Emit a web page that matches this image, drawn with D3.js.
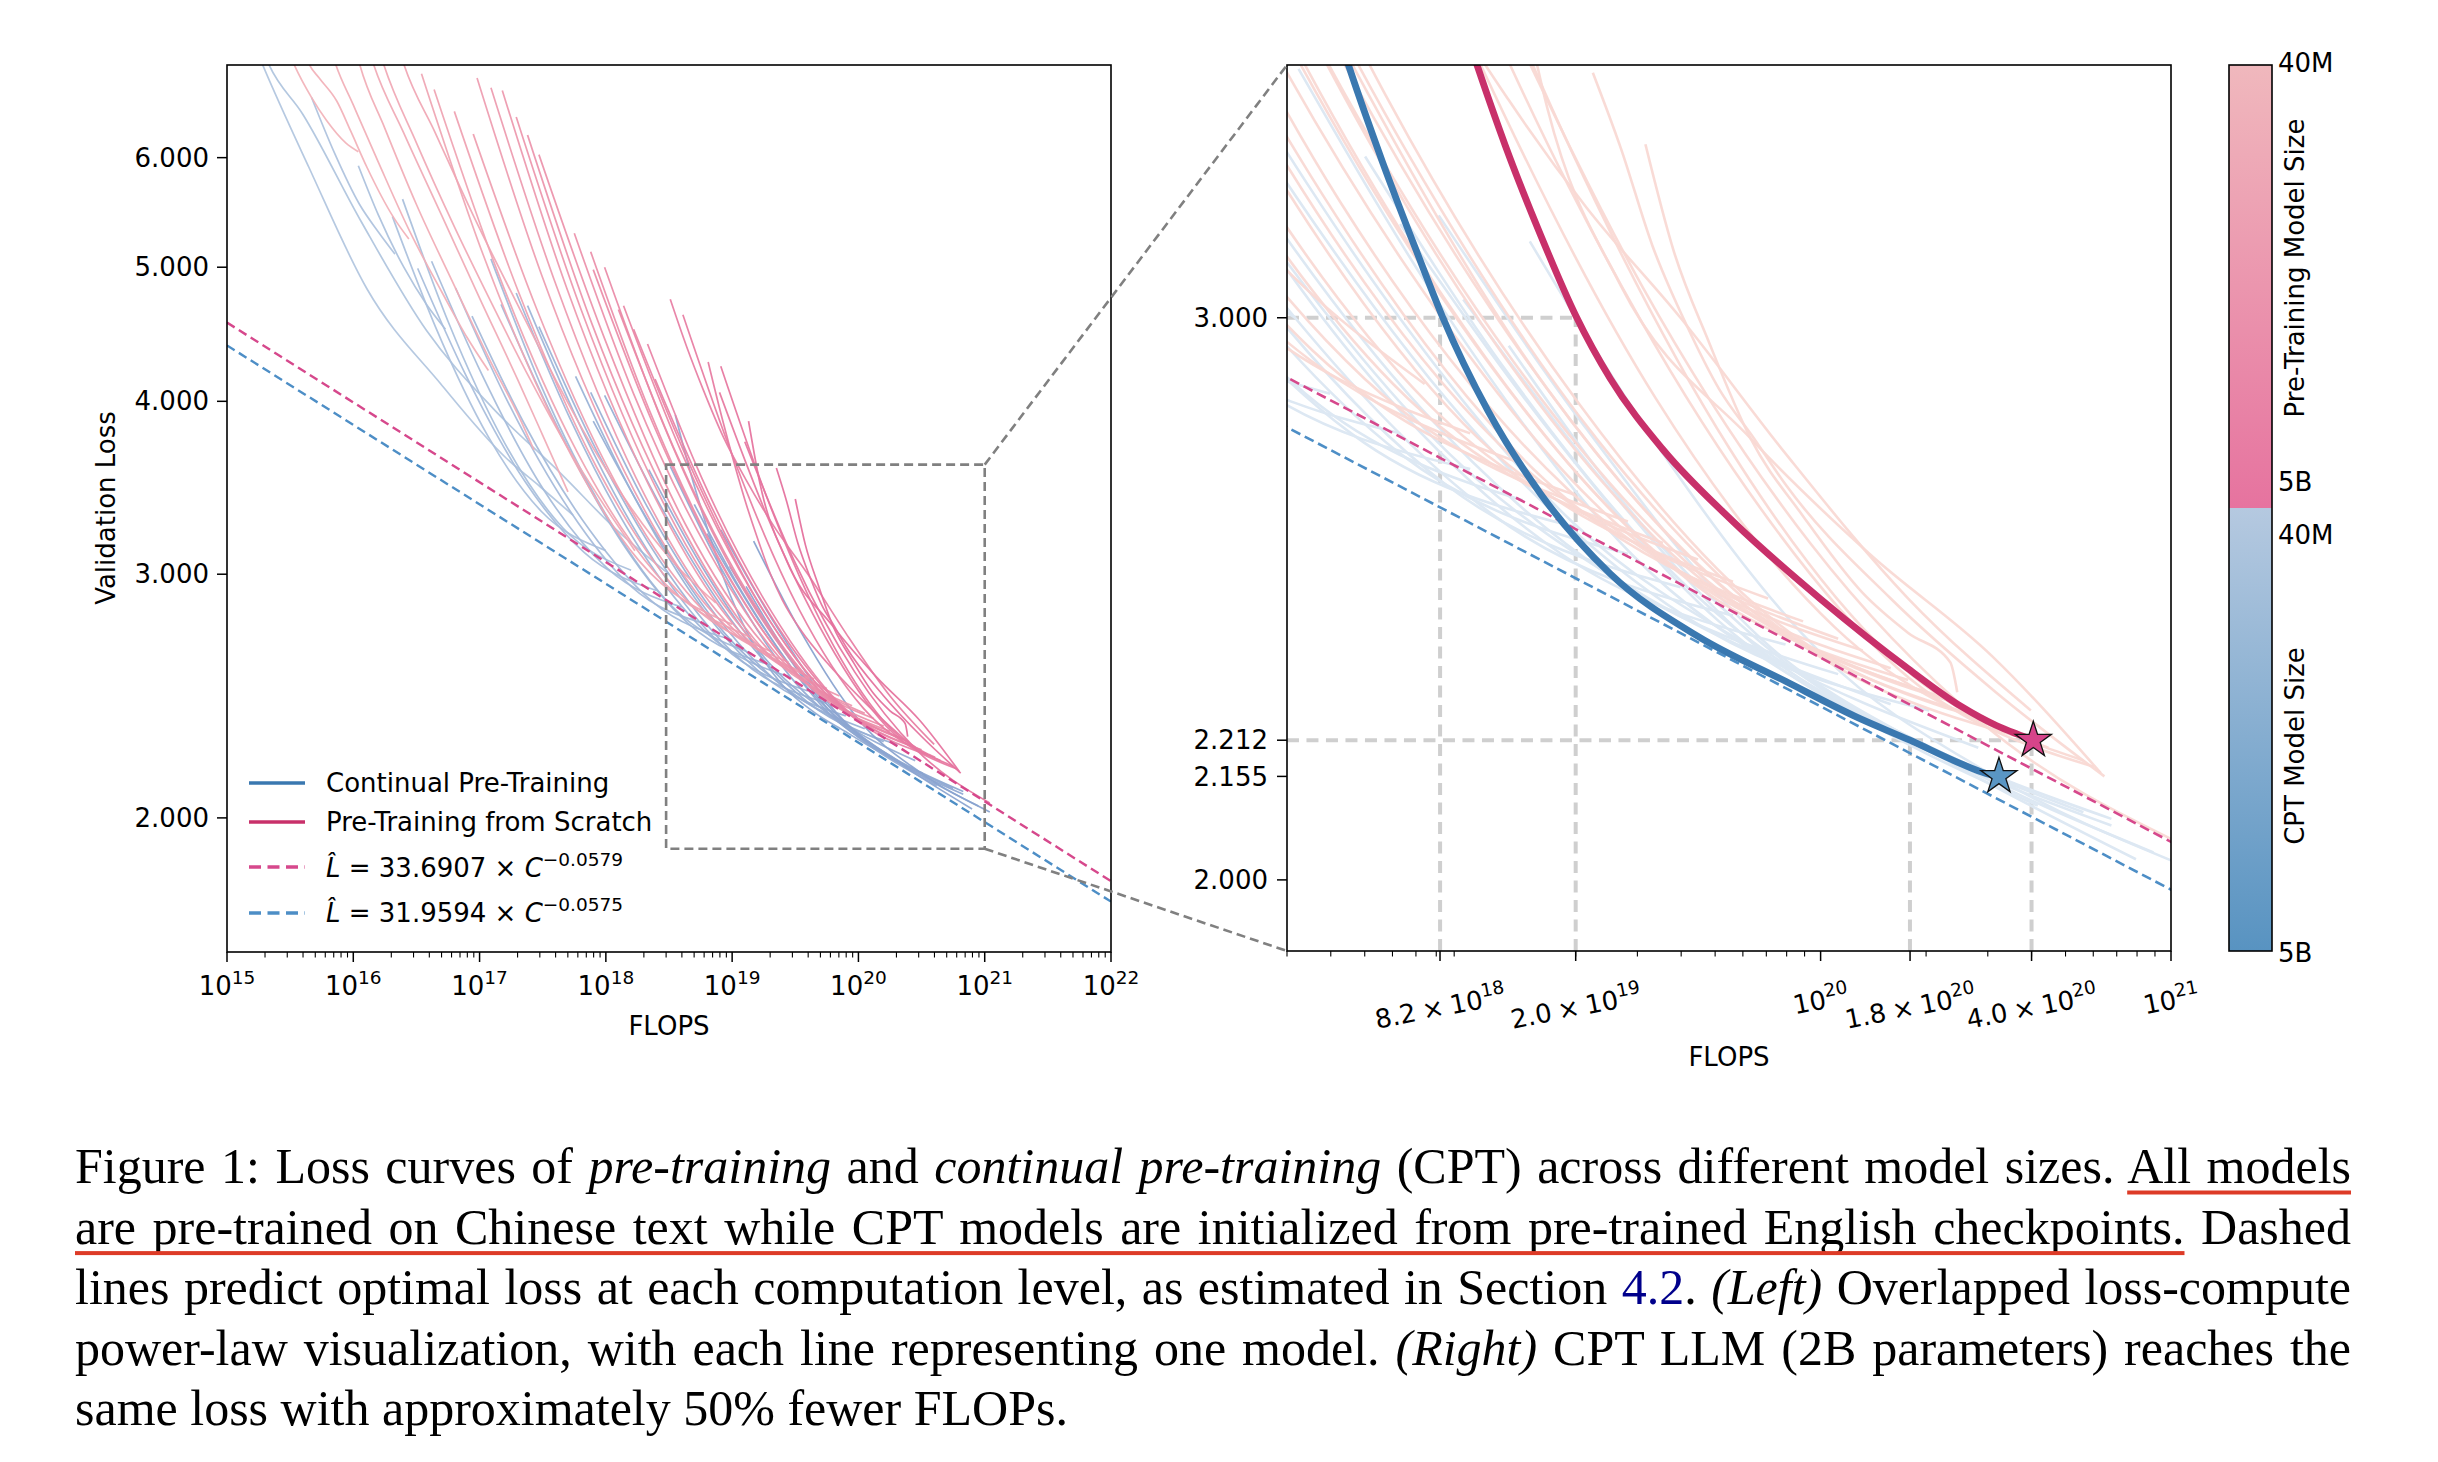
<!DOCTYPE html>
<html><head><meta charset="utf-8">
<script src="https://cdn.jsdelivr.net/npm/d3@7"></script>
<style>body{margin:0;background:#fff}</style>
</head><body>
<svg id="fig" width="2438" height="1462" xmlns="http://www.w3.org/2000/svg"></svg>
<script>
// ---------------- DATA (x = log10 FLOPs, y = validation loss) ----------------
const pinkCurves = [
[[15.45,7.3],[15.53,7.01],[15.67,6.63],[15.79,6.38],[15.94,6.15],[16.04,6.06]],
[[15.60,7.2],[15.65,7.01],[15.73,6.85],[15.87,6.59],[15.98,6.27],[16.11,5.90],[16.32,5.43],[16.44,5.24]],
[[15.80,7.3],[15.86,7.01],[16.0,6.55],[16.2,5.95],[16.45,5.3],[16.7,4.8],[16.9,4.45],[17.07,4.21]],
[[16.0,7.3],[16.05,7.01],[16.25,6.30],[16.5,5.55],[16.8,4.85],[17.1,4.25],[17.3,3.92],[17.43,3.69]],
[[16.10,7.3],[16.16,7.01],[16.4,6.25],[16.7,5.45],[17.0,4.75],[17.3,4.15],[17.5,3.78],[17.70,3.44]],
[[16.18,7.3],[16.24,7.01],[16.5,6.15],[16.8,5.35],[17.1,4.7],[17.4,4.15],[17.7,3.7],[18.0,3.35],[18.23,3.12]],
[[16.34,7.3],[16.40,7.01],[16.65,6.25],[16.95,5.45],[17.3,4.7],[17.6,4.15],[17.9,3.7],[18.2,3.35],[18.55,3.05],[18.87,2.86]],
[[16.54,6.90],[17.03,5.10],[17.65,3.77],[18.26,3.07],[19.00,2.76]],
[[16.64,6.72],[17.14,4.97],[17.77,3.68],[18.40,3.00],[19.15,2.70]],
[[16.80,6.48],[17.30,4.82],[17.93,3.58],[18.55,2.93],[19.30,2.64]],
[[16.95,6.24],[17.45,4.67],[18.08,3.49],[18.70,2.87],[19.45,2.59]],
[[16.98,6.85],[17.49,4.94],[18.14,3.57],[18.78,2.86],[19.55,2.55]],
[[17.09,6.74],[17.60,4.87],[18.24,3.52],[18.88,2.82],[19.65,2.52]],
[[17.18,6.71],[17.69,4.83],[18.34,3.48],[18.98,2.78],[19.75,2.48]],
[[17.29,6.42],[17.80,4.67],[18.44,3.40],[19.08,2.74],[19.85,2.45]],
[[17.38,6.23],[17.89,4.55],[18.54,3.33],[19.18,2.69],[19.95,2.41]],
[[17.47,6.03],[17.99,4.44],[18.63,3.26],[19.28,2.65],[20.05,2.38]],
[[17.75,5.29],[18.22,4.05],[18.82,3.11],[19.41,2.59],[20.12,2.36]],
[[17.88,5.13],[18.34,3.95],[18.92,3.05],[19.50,2.55],[20.20,2.33]],
[[17.90,4.98],[18.37,3.86],[18.96,3.00],[19.55,2.52],[20.25,2.31]],
[[17.99,5.00],[18.45,3.86],[19.03,2.99],[19.61,2.51],[20.30,2.29]],
[[18.10,4.66],[18.55,3.68],[19.12,2.91],[19.68,2.48],[20.36,2.28]],
[[18.14,4.69],[18.59,3.69],[19.16,2.91],[19.72,2.47],[20.40,2.27]],
[[18.22,4.51],[18.67,3.59],[19.22,2.85],[19.78,2.44],[20.45,2.25]],
[[18.33,4.40],[18.76,3.52],[19.31,2.82],[19.85,2.42],[20.50,2.24]],
[[18.39,4.15],[18.82,3.38],[19.36,2.75],[19.90,2.39],[20.55,2.22]],
[[18.51,4.74],[18.64,4.38],[18.77,4.08],[18.93,3.77],[19.11,3.51],[19.33,3.25],[19.6,3.0],[19.9,2.72],[20.25,2.45],[20.60,2.26]],
[[18.61,4.62],[19.02,3.62],[19.53,2.83],[20.04,2.40],[20.65,2.20]],
[[18.91,4.24],[19.28,3.40],[19.74,2.73],[20.20,2.35],[20.75,2.18]],
[[18.90,4.06],[19.28,3.30],[19.75,2.69],[20.22,2.33],[20.78,2.17]],
[[19.10,3.74],[19.49,3.07],[19.97,2.55],[20.46,2.24],[21.04,2.05]],
[[19.13,3.87],[19.22,3.49],[19.43,3.07],[19.80,2.75],[20.14,2.53],[20.49,2.35],[20.80,2.16]],
[[19.35,3.58],[19.43,3.39],[19.52,3.16],[19.62,2.98],[19.71,2.85],[19.81,2.75],[19.90,2.66],[20.2,2.45],[20.5,2.29],[20.81,2.155]],
[[19.50,3.40],[19.58,3.15],[19.68,2.95],[19.80,2.75],[19.95,2.60],[20.12,2.46],[20.25,2.39],[20.37,2.34],[20.39,2.29]]
];

const blueCurves = [
[[15.20,7.3],[15.28,7.01],[15.65,5.90],[16.11,4.82],[16.69,4.12],[17.21,3.64],[17.48,3.47],[17.74,3.31]],
[[15.25,7.3],[15.33,7.01],[15.60,6.45],[16.06,5.40],[16.58,4.50],[17.11,3.95],[17.64,3.55],[18.1,3.22],[18.5,3.0]],
[[15.67,6.63],[15.85,6.05],[16.05,5.55],[16.20,5.30],[16.33,5.11]],
[[16.04,5.92],[16.2,5.45],[16.4,5.0],[16.58,4.70],[16.73,4.51]],
[[16.31,5.44],[16.65,4.53],[17.07,3.77],[17.49,3.33],[18.0,3.12]],
[[16.39,5.60],[16.75,4.57],[17.20,3.73],[17.66,3.24],[18.2,3.02]],
[[16.51,4.99],[16.89,4.18],[17.36,3.50],[17.83,3.11],[18.4,2.92]],
[[16.62,5.05],[17.02,4.18],[17.51,3.45],[18.01,3.03],[18.6,2.84]],
[[16.81,4.83],[17.21,4.02],[17.71,3.34],[18.20,2.94],[18.8,2.76]],
[[16.94,4.61],[17.35,3.86],[17.87,3.23],[18.38,2.86],[19.0,2.69]],
[[17.09,5.07],[17.50,4.08],[18.02,3.29],[18.53,2.84],[19.15,2.63]],
[[17.17,4.70],[17.60,3.86],[18.13,3.16],[18.66,2.76],[19.3,2.58]],
[[17.29,4.79],[17.72,3.88],[18.26,3.14],[18.80,2.72],[19.45,2.53]],
[[17.38,4.69],[17.82,3.80],[18.38,3.07],[18.93,2.66],[19.6,2.47]],
[[17.47,4.53],[17.93,3.68],[18.50,3.00],[19.07,2.60],[19.75,2.42]],
[[17.76,4.17],[18.19,3.46],[18.72,2.87],[19.26,2.53],[19.9,2.37]],
[[17.88,4.06],[18.31,3.38],[18.86,2.81],[19.40,2.49],[20.05,2.32]],
[[17.90,3.87],[18.36,3.25],[18.94,2.72],[19.51,2.45],[20.2,2.27]],
[[17.99,4.04],[18.45,3.34],[19.03,2.75],[19.61,2.42],[20.31,2.26]],
[[18.34,3.57],[18.76,3.04],[19.29,2.59],[19.82,2.36],[20.45,2.20]],
[[18.51,3.59],[18.93,3.01],[19.46,2.53],[19.99,2.29],[20.62,2.11]],
[[18.70,3.37],[19.11,2.88],[19.62,2.47],[20.14,2.25],[20.75,2.10]],
[[18.80,3.21],[19.21,2.78],[19.71,2.41],[20.22,2.22],[20.83,2.08]],
[[18.91,3.23],[19.32,2.78],[19.83,2.38],[20.34,2.19],[20.95,2.04]],
[[18.98,3.04],[19.35,2.69],[19.81,2.37],[20.28,2.21],[20.83,2.09]],
[[19.11,2.94],[19.47,2.60],[19.92,2.33],[20.36,2.18],[20.9,2.03]],
[[19.17,3.17],[19.54,2.73],[20.01,2.35],[20.48,2.16],[21.04,2.02]]
];

// highlighted 2B models (right panel)
const pinkHighlight = [[18.81,4.27],[18.92,3.89],[19.022,3.593],[19.1,3.397],[19.2,3.186],[19.301,3.005],[19.4,2.871],[19.55,2.728],[19.75,2.590],[20.0,2.449],[20.25,2.329],[20.4,2.267],[20.5,2.236],[20.56,2.222],[20.607,2.212]];
const blueHighlight = [[18.55,3.91],[18.655,3.593],[18.75,3.356],[18.85,3.141],[18.922,3.0],[19.05,2.806],[19.2,2.643],[19.4,2.494],[19.65,2.384],[19.9,2.308],[20.1,2.25],[20.255,2.212],[20.4,2.175],[20.47,2.16],[20.509,2.155]];
const starPoints = [{name:"pink", x:20.607, y:2.212}, {name:"blue", x:20.509, y:2.155}];

// fitted power laws (endpoints at 1e15 and 1e22)
const fitPink = [[15, 4.56],[22, 1.80]];
const fitBlue = [[15, 4.39],[22, 1.74]];

// guide lines in right panel
const guideH = [{y:3.0, x0:18.477, x1:19.301},{y:2.212, x0:18.477, x1:20.602}];
const guideV = [{x:18.914, y:3.0},{x:19.301, y:3.0},{x:20.255, y:2.212},{x:20.602, y:2.212}];

// ticks
const leftXExps = [15,16,17,18,19,20,21,22];
const leftYTicks = [2,3,4,5,6];
const rightXTicks = [{v:8.2e18, m:"8.2", e:"18"},{v:2.0e19, m:"2.0", e:"19"},{v:1e20, m:"", e:"20"},{v:1.8e20, m:"1.8", e:"20"},{v:4.0e20, m:"4.0", e:"20"},{v:1e21, m:"", e:"21"}];
const rightYTicks = [2.0, 2.155, 2.212, 3.0];
const cbarLabels = [{t:"40M", y:63},{t:"5B", y:482},{t:"40M", y:535},{t:"5B", y:953}];

const legendItems = [
  {type:"solid", color:"#3a78b0", text:"Continual Pre-Training"},
  {type:"solid", color:"#c8306a", text:"Pre-Training from Scratch"},
  {type:"dash", color:"#d6488c", coef:"33.6907", exp:"\u22120.0579"},
  {type:"dash", color:"#4d8ec6", coef:"31.9594", exp:"\u22120.0575"}
];

// ---------------- LAYOUT ----------------
const svg = d3.select("#fig");
const FONT = "'DejaVu Sans', sans-serif";
const LB = {x0:227, x1:1111, y0:65, y1:952};
const RB = {x0:1287, x1:2171, y0:65, y1:951};
const xL = d3.scaleLog().domain([1e15,1e22]).range([LB.x0, LB.x1]);
const yL = d3.scaleLog().domain([1.6,7.0]).range([LB.y1, LB.y0]);
const xR = d3.scaleLog().domain([3e18,1e21]).range([RB.x0, RB.x1]);
const yR = d3.scaleLog().domain([1.9,3.6]).range([RB.y1, RB.y0]);

const defs = svg.append("defs");
function addClip(id, b){
  defs.append("clipPath").attr("id", id).append("rect")
    .attr("x", b.x0).attr("y", b.y0).attr("width", b.x1-b.x0).attr("height", b.y1-b.y0);
}
addClip("clipL", LB); addClip("clipR", RB);

const lineGen = (xs, ys) => d3.line().x(d => xs(Math.pow(10, d[0]))).y(d => ys(d[1])).curve(d3.curveMonotoneX);

const pinkScale = d3.interpolateRgb("#f2b4ba", "#e5709d");
const blueScale = d3.interpolateRgb("#b2c6df", "#89a3d0");

// ---------------- LEFT PANEL ----------------
const gL = svg.append("g").attr("clip-path", "url(#clipL)");
const blueAll = blueCurves.concat([blueHighlight]).sort((a,b)=>a[0][0]-b[0][0]);
const pinkAll = pinkCurves.concat([pinkHighlight]).sort((a,b)=>a[0][0]-b[0][0]);
gL.selectAll("path.b").data(blueAll).join("path")
  .attr("d", lineGen(xL, yL)).attr("fill","none")
  .attr("stroke", (d,i)=>blueScale(i/(blueAll.length-1))).attr("stroke-width",1.7).attr("stroke-opacity",0.95);
gL.selectAll("path.p").data(pinkAll).join("path")
  .attr("d", lineGen(xL, yL)).attr("fill","none")
  .attr("stroke", (d,i)=>pinkScale(i/(pinkAll.length-1))).attr("stroke-width",1.7).attr("stroke-opacity",0.95);
gL.append("path").datum(fitPink).attr("d", d3.line().x(d=>xL(Math.pow(10,d[0]))).y(d=>yL(d[1])))
  .attr("fill","none").attr("stroke","#d6488c").attr("stroke-width",2.4).attr("stroke-dasharray","9,5");
gL.append("path").datum(fitBlue).attr("d", d3.line().x(d=>xL(Math.pow(10,d[0]))).y(d=>yL(d[1])))
  .attr("fill","none").attr("stroke","#4d8ec6").attr("stroke-width",2.4).attr("stroke-dasharray","9,5");

// frame
function frame(b){
  svg.append("rect").attr("x",b.x0).attr("y",b.y0).attr("width",b.x1-b.x0).attr("height",b.y1-b.y0)
    .attr("fill","none").attr("stroke","#000").attr("stroke-width",1.6);
}
frame(LB);

// left x ticks
const tickG = svg.append("g").attr("stroke","#000");
leftXExps.forEach(e => {
  const x = xL(Math.pow(10,e));
  tickG.append("line").attr("x1",x).attr("x2",x).attr("y1",LB.y1).attr("y2",LB.y1+10).attr("stroke-width",1.5);
  if (e < 22) for (let k=2;k<=9;k++){
    const xm = xL(k*Math.pow(10,e));
    tickG.append("line").attr("x1",xm).attr("x2",xm).attr("y1",LB.y1).attr("y2",LB.y1+5.5).attr("stroke-width",1.1);
  }
  const t = svg.append("text").attr("x",x).attr("y",995).attr("text-anchor","middle")
    .attr("font-family",FONT).attr("font-size",26).attr("fill","#000");
  t.append("tspan").text("10");
  t.append("tspan").attr("dy",-11).attr("font-size",18.5).text(String(e));
});
leftYTicks.forEach(v => {
  const y = yL(v);
  tickG.append("line").attr("x1",LB.x0-10).attr("x2",LB.x0).attr("y1",y).attr("y2",y).attr("stroke-width",1.5);
  svg.append("text").attr("x",LB.x0-18).attr("y",y).attr("dy","0.35em").attr("text-anchor","end")
    .attr("font-family",FONT).attr("font-size",26).text(v.toFixed(3));
});
svg.append("text").attr("x",(LB.x0+LB.x1)/2).attr("y",1035).attr("text-anchor","middle")
  .attr("font-family",FONT).attr("font-size",26).text("FLOPS");
svg.append("text").attr("transform","translate(106,508) rotate(-90)").attr("text-anchor","middle")
  .attr("dy","0.35em").attr("font-family",FONT).attr("font-size",26).text("Validation Loss");

// legend
const legY = [{h:783, b:792},{h:822, b:831},{h:867, b:877},{h:913, b:922}];
legendItems.forEach((it, i) => {
  const r = legY[i];
  svg.append("line").attr("x1",249).attr("x2",305).attr("y1",r.h).attr("y2",r.h)
    .attr("stroke",it.color).attr("stroke-width",3.6)
    .attr("stroke-dasharray", it.type==="dash" ? "12,6.5" : null);
  const t = svg.append("text").attr("x",326).attr("y",r.b).attr("font-family",FONT).attr("font-size",26).attr("fill","#000");
  if (it.type === "solid") t.text(it.text);
  else {
    t.append("tspan").attr("font-style","italic").text("L\u0302");
    t.append("tspan").text(" = " + it.coef + " \u00d7 ");
    t.append("tspan").attr("font-style","italic").text("C");
    t.append("tspan").attr("dy",-11).attr("font-size",18.5).text(it.exp);
  }
});

// zoom box
const bx0 = xL(3e18), bx1 = xL(1e21), by0 = yL(3.6), by1 = yL(1.9);
svg.append("rect").attr("x",bx0).attr("y",by0).attr("width",bx1-bx0).attr("height",by1-by0)
  .attr("fill","none").attr("stroke","#808080").attr("stroke-width",2.6).attr("stroke-dasharray","9,5");

// ---------------- RIGHT PANEL ----------------
const gR = svg.append("g").attr("clip-path","url(#clipR)");
guideH.forEach(g => {
  gR.append("line").attr("x1",xR(Math.pow(10,g.x0))).attr("x2",xR(Math.pow(10,g.x1)))
    .attr("y1",yR(g.y)).attr("y2",yR(g.y)).attr("stroke","#cfcfcf").attr("stroke-width",4).attr("stroke-dasharray","12,7.5");
});
guideV.forEach(g => {
  gR.append("line").attr("x1",xR(Math.pow(10,g.x))).attr("x2",xR(Math.pow(10,g.x)))
    .attr("y1",RB.y1).attr("y2",yR(g.y)).attr("stroke","#cfcfcf").attr("stroke-width",4).attr("stroke-dasharray","12,7.5");
});
gR.selectAll("path.fb").data(blueCurves).join("path")
  .attr("d", lineGen(xR, yR)).attr("fill","none").attr("stroke","#dde8f3").attr("stroke-width",2.6);
gR.selectAll("path.fp").data(pinkCurves).join("path")
  .attr("d", lineGen(xR, yR)).attr("fill","none").attr("stroke","#f9d9d4").attr("stroke-width",2.6).attr("stroke-opacity",0.95);
gR.append("path").datum(fitPink).attr("d", d3.line().x(d=>xR(Math.pow(10,d[0]))).y(d=>yR(d[1])))
  .attr("fill","none").attr("stroke","#d6488c").attr("stroke-width",2.6).attr("stroke-dasharray","10,5");
gR.append("path").datum(fitBlue).attr("d", d3.line().x(d=>xR(Math.pow(10,d[0]))).y(d=>yR(d[1])))
  .attr("fill","none").attr("stroke","#4d8ec6").attr("stroke-width",2.6).attr("stroke-dasharray","10,5");
gR.append("path").datum(blueHighlight).attr("d", lineGen(xR,yR)).attr("fill","none")
  .attr("stroke","#3a78b0").attr("stroke-width",6.8);
gR.append("path").datum(pinkHighlight).attr("d", lineGen(xR,yR)).attr("fill","none")
  .attr("stroke","#c8306a").attr("stroke-width",6.8);
const star = d3.symbol().type(d3.symbolStar).size(405);
svg.selectAll("path.star").data(starPoints).join("path")
  .attr("d", star).attr("transform", d => `translate(${xR(Math.pow(10,d.x))},${yR(d.y)})`)
  .attr("fill", d => d.name==="pink" ? "#d6448a" : "#5a96c4").attr("stroke","#111").attr("stroke-width",1.3);
frame(RB);

// right ticks
for (let e=18; e<=20; e++) for (let k=2;k<=9;k++){
  const v = k*Math.pow(10,e);
  if (v < 3e18 || v > 1e21) continue;
  const x = xR(v);
  tickG.append("line").attr("x1",x).attr("x2",x).attr("y1",RB.y1).attr("y2",RB.y1+5.5).attr("stroke-width",1.1);
}
const rotDeg = 11, rot = rotDeg * Math.PI/180;
rightXTicks.forEach(d => {
  const x = xR(d.v);
  tickG.append("line").attr("x1",x).attr("x2",x).attr("y1",RB.y1).attr("y2",RB.y1+10).attr("stroke-width",1.5);
  const g = svg.append("g");
  const t = g.append("text").attr("font-family",FONT).attr("font-size",26).attr("text-anchor","middle");
  t.append("tspan").text((d.m ? d.m + "\u2005\u00d7\u2005" : "") + "10");
  t.append("tspan").attr("dy",-11).attr("font-size",18.5).text(d.e);
  const bb = t.node().getBBox();
  const hr = bb.width*Math.sin(rot) + bb.height*Math.cos(rot);
  g.attr("transform", `translate(${x},${RB.y1 + 25 + hr/2}) rotate(${-rotDeg}) translate(${-(bb.x+bb.width/2)},${-(bb.y+bb.height/2)})`);
});
rightYTicks.forEach(v => {
  const y = yR(v);
  tickG.append("line").attr("x1",RB.x0-10).attr("x2",RB.x0).attr("y1",y).attr("y2",y).attr("stroke-width",1.5);
  svg.append("text").attr("x",RB.x0-19).attr("y",y).attr("dy","0.35em").attr("text-anchor","end")
    .attr("font-family",FONT).attr("font-size",26).text(v.toFixed(3));
});
svg.append("text").attr("x",(RB.x0+RB.x1)/2).attr("y",1066).attr("text-anchor","middle")
  .attr("font-family",FONT).attr("font-size",26).text("FLOPS");

// connectors (on top)
svg.append("line").attr("x1",bx1).attr("y1",by0).attr("x2",RB.x0).attr("y2",RB.y0)
  .attr("stroke","#808080").attr("stroke-width",2.6).attr("stroke-dasharray","9,5");
svg.append("line").attr("x1",bx1).attr("y1",by1).attr("x2",RB.x0).attr("y2",RB.y1)
  .attr("stroke","#808080").attr("stroke-width",2.6).attr("stroke-dasharray","9,5");

// ---------------- COLORBAR ----------------
const CB = {x0:2229, x1:2272, y0:65, ym:508, y1:951};
const gp = defs.append("linearGradient").attr("id","gPink").attr("x1",0).attr("y1",0).attr("x2",0).attr("y2",1);
gp.append("stop").attr("offset","0%").attr("stop-color","#f0b8bd");
gp.append("stop").attr("offset","100%").attr("stop-color","#e6739f");
const gb = defs.append("linearGradient").attr("id","gBlue").attr("x1",0).attr("y1",0).attr("x2",0).attr("y2",1);
gb.append("stop").attr("offset","0%").attr("stop-color","#b5c9e0");
gb.append("stop").attr("offset","100%").attr("stop-color","#5893c1");
svg.append("rect").attr("x",CB.x0).attr("y",CB.y0).attr("width",CB.x1-CB.x0).attr("height",CB.ym-CB.y0).attr("fill","url(#gPink)");
svg.append("rect").attr("x",CB.x0).attr("y",CB.ym).attr("width",CB.x1-CB.x0).attr("height",CB.y1-CB.ym).attr("fill","url(#gBlue)");
svg.append("rect").attr("x",CB.x0).attr("y",CB.y0).attr("width",CB.x1-CB.x0).attr("height",CB.y1-CB.y0)
  .attr("fill","none").attr("stroke","#000").attr("stroke-width",1.6);
cbarLabels.forEach(l => {
  svg.append("text").attr("x",2278).attr("y",l.y).attr("dy","0.35em").attr("font-family",FONT).attr("font-size",26).text(l.t);
});
svg.append("text").attr("transform","translate(2295,268) rotate(-90)").attr("text-anchor","middle").attr("dy","0.35em")
  .attr("font-family",FONT).attr("font-size",26).text("Pre-Training Model Size");
svg.append("text").attr("transform","translate(2295,746) rotate(-90)").attr("text-anchor","middle").attr("dy","0.35em")
  .attr("font-family",FONT).attr("font-size",26).text("CPT Model Size");

// ---------------- CAPTION ----------------
const capLines = [
 [{t:"Figure 1: Loss curves of "},{t:"pre-training",i:1},{t:" and "},{t:"continual pre-training",i:1},{t:" (CPT) across different model sizes. "},{t:"All models",u:1}],
 [{t:"are pre-trained on Chinese text while CPT models are initialized from pre-trained English checkpoints.",u:1},{t:" Dashed"}],
 [{t:"lines predict optimal loss at each computation level, as estimated in Section "},{t:"4.2",c:"#00008b"},{t:". "},{t:"(Left)",i:1},{t:" Overlapped loss-compute"}],
 [{t:"power-law visualization, with each line representing one model. "},{t:"(Right)",i:1},{t:" CPT LLM (2B parameters) reaches the"}],
 [{t:"same loss with approximately 50% fewer FLOPs."}]
];
const capG = svg.append("g").attr("font-family","'Liberation Serif','Times New Roman',serif").attr("font-size",50);
capLines.forEach((segs, li) => {
  const base = 1183 + li*60.6;
  const t = capG.append("text").attr("x",75).attr("y",base).attr("fill","#000").style("white-space","pre");
  segs.forEach(s => {
    const ts = t.append("tspan").text(s.t);
    if (s.i) ts.attr("font-style","italic");
    if (s.c) ts.attr("fill", s.c);
    s.node = ts.node();
  });
  if (li < 4) {
    const nat = t.node().getComputedTextLength();
    const n = (segs.map(s=>s.t).join("").match(/ /g) || []).length;
    t.attr("word-spacing", (2276 - nat) / n);
  }
  segs.forEach(s => {
    if (!s.u) return;
    const nd = s.node, len = s.t.length;
    const a = nd.getStartPositionOfChar(0).x, b = nd.getEndPositionOfChar(len-1).x;
    capG.append("rect").attr("x",a).attr("y",base+7.5).attr("width",b-a).attr("height",4).attr("fill","#dd3b27");
  });
});
</script>
</body></html>
